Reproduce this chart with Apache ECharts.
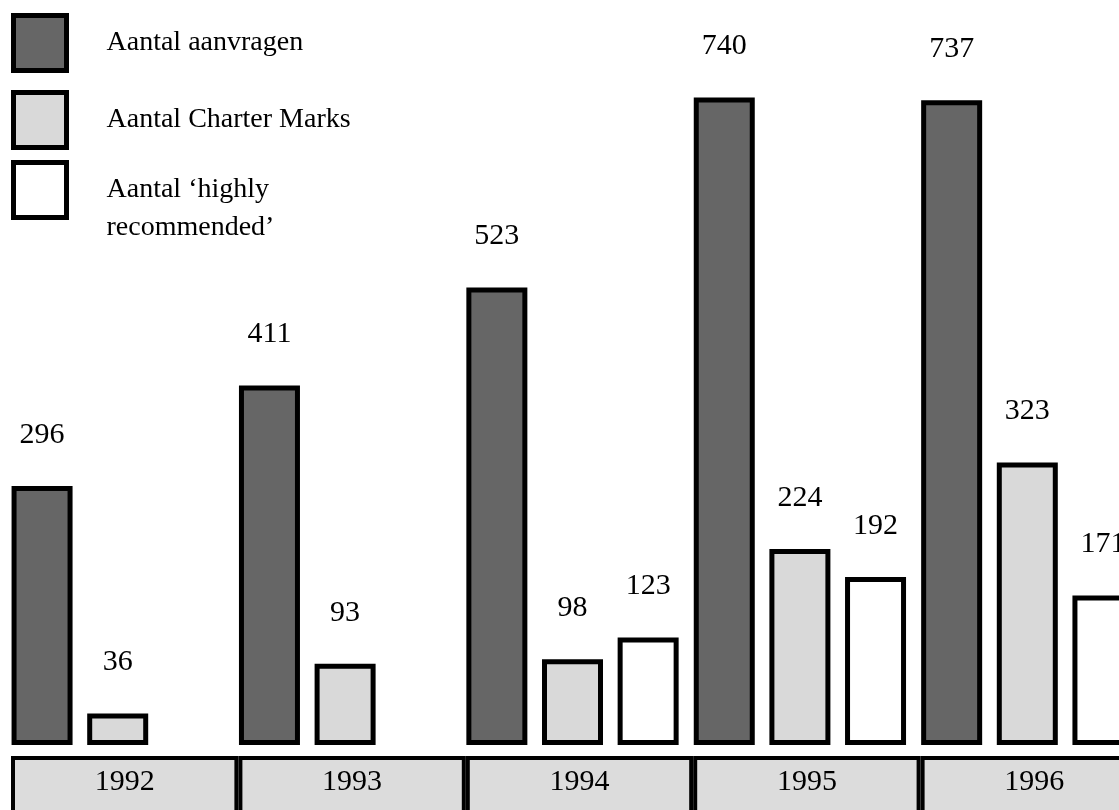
<!DOCTYPE html>
<html><head><meta charset="utf-8">
<script src="https://cdn.jsdelivr.net/npm/echarts@6/dist/echarts.min.js"></script>
<style>html,body{margin:0;padding:0;background:#fff}#c{width:1119px;height:810px}</style>
</head><body><div id="c"></div>
<script>
const years = ['1992','1993','1994','1995','1996'];
const aanvragen = [296, 411, 523, 740, 737];
const charterMarks = [36, 93, 98, 224, 323];
const highlyRecommended = [null, null, 123, 192, 171];
const seriesNames = ['Aantal aanvragen', 'Aantal Charter Marks', 'Aantal \u2018highly recommended\u2019'];
const bandValues = [1, 1, 1, 1, 1];

const font = 'Liberation Serif';
const chart = echarts.init(document.getElementById('c'), null, {renderer:'canvas'});
const labelCfg = {show:true, position:'top', distance:36, color:'#000', fontFamily:font, fontSize:30};
function barSeries(name, data, color){
  return {name, type:'bar', xAxisIndex:0, yAxisIndex:0, data, barWidth:61, barGap:'24%',
    itemStyle:{color, borderColor:'#000', borderWidth:5}, label:labelCfg, silent:true};
}
const legendBase = {
  orient:'vertical', padding:0, itemGap:17,
  itemWidth:53, itemHeight:55, icon:'rect',
  itemStyle:{borderColor:'#000', borderWidth:5},
  textStyle:{fontFamily:font, fontSize:28, lineHeight:38, color:'#000', padding:[0,0,0,35]}
};
chart.setOption({
  animation:false,
  backgroundColor:'#fff',
  legend:[
    Object.assign({}, legendBase, {left:11, top:13, data: seriesNames.slice(0,2)}),
    Object.assign({}, legendBase, {left:11, top:133, data: seriesNames.slice(2),
      formatter: n => '\n' + n.replace(' recommended', '\nrecommended')})
  ],
  grid:[
    {left:4, width:1137, top:45, height:700, outerBoundsMode:'none'},
    {left:11, width:1137, top:756, height:80, outerBoundsMode:'none'}
  ],
  xAxis:[
    {type:'category', gridIndex:0, data:years, show:false},
    {type:'category', gridIndex:1, data:years, show:false}
  ],
  yAxis:[
    {type:'value', gridIndex:0, min:0, max:800, show:false},
    {type:'value', gridIndex:1, min:0, max:1, show:false}
  ],
  series:[
    barSeries(seriesNames[0], aanvragen, '#666666'),
    barSeries(seriesNames[1], charterMarks, '#d9d9d9'),
    barSeries(seriesNames[2], highlyRecommended, '#ffffff'),
    {type:'bar', xAxisIndex:1, yAxisIndex:1, data:bandValues, barWidth:'100%', silent:true,
     itemStyle:{color:'#dcdcdc', borderColor:'#000', borderWidth:4},
     label:{show:true, position:'insideTop', distance:11, color:'#000', fontFamily:font, fontSize:30,
            formatter: p => years[p.dataIndex]}}
  ]
});
</script></body></html>
